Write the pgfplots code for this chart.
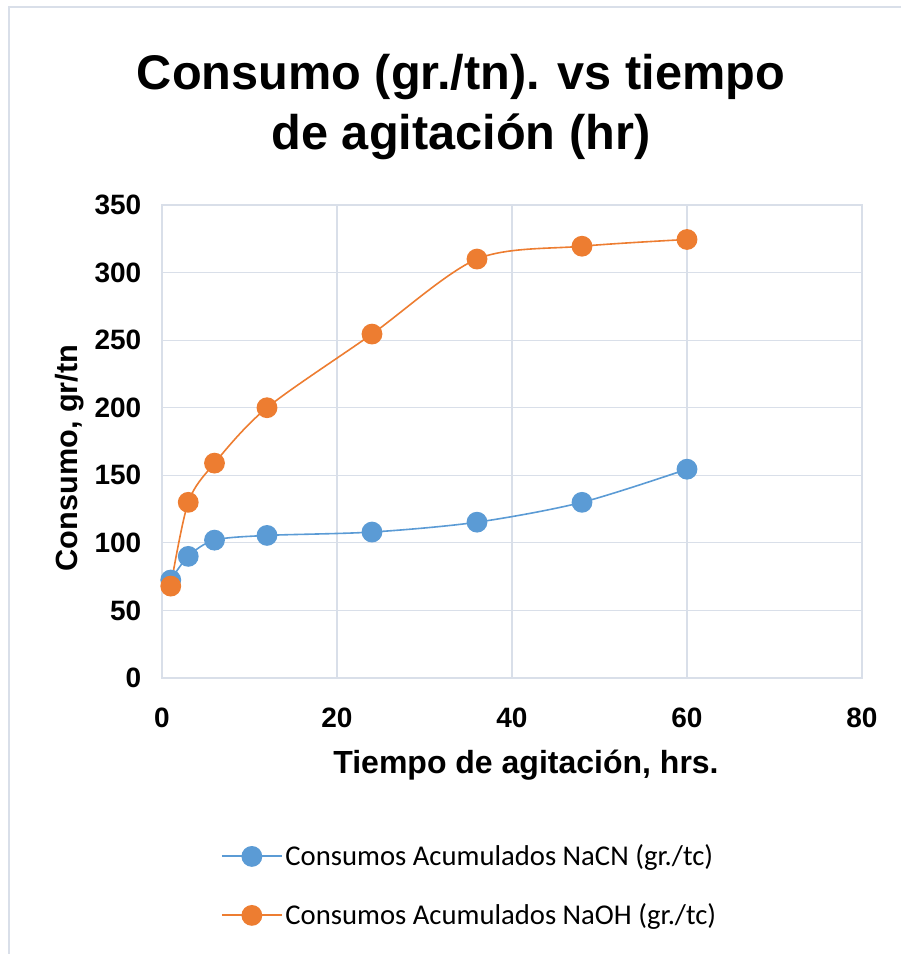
\documentclass[border=0pt]{standalone}
\usepackage{pgfplots}
\pgfplotsset{compat=1.18}
\usepackage{fontspec}
\setmainfont{Liberation Sans}
\newfontfamily\legfont{Carlito}
\definecolor{gridc}{RGB}{217,223,233}
\definecolor{serblue}{RGB}{91,155,213}
\definecolor{serorange}{RGB}{237,125,49}
\begin{document}
\begin{tikzpicture}
\useasboundingbox (-121.5pt,-207pt) rectangle (554.25pt,508.5pt);
\draw[gridc, line width=1.5pt] (-114.75pt,-207pt) -- (-114.75pt,503.25pt) -- (554.25pt,503.25pt);
\begin{axis}[
  at={(0pt,0pt)}, anchor=south west,
  scale only axis, width=525pt, height=354.75pt,
  xmin=0, xmax=80, ymin=0, ymax=350,
  xtick={0,20,40,60,80}, ytick={0,50,...,350},
  grid=major, major grid style={gridc, line width=0.8pt},
  axis line style={gridc, line width=0.8pt},
  major tick length=0pt,
  /pgf/number format/assume math mode=true,
  ticklabel style={font=\bfseries\fontsize{21}{25}\selectfont},
  yticklabel style={xshift=-12pt},
  xticklabel style={yshift=-19pt},
  xlabel={Tiempo de agitación, hrs.},
  ylabel={Consumo, gr/tn},
  xlabel style={at={(273pt,-65.25pt)}, anchor=center, font=\bfseries\fontsize{24}{28}\selectfont},
  ylabel style={at={(-69pt,165pt)}, anchor=center, font=\bfseries\fontsize{23}{27}\selectfont},
  title={Consumo (gr./tn). vs tiempo\\de agitación (hr)},
  title style={at={(224.25pt,422pt)}, anchor=center, align=center,
    font=\bfseries\fontsize{36.5}{45}\selectfont},
  legend style={at={(44pt,-123pt)}, anchor=north west, draw=none, fill=none,
    font=\legfont\fontsize{21.5}{25}\selectfont, row sep=23pt, inner sep=0pt},
  legend cell align=left,
]
\addplot[serblue, line width=1.2pt, smooth, tension=0.5, mark=*, mark size=7.2pt,
  mark options={fill=serblue, draw=serblue},
  legend image code/.code={%
    \draw[serblue, line width=1.4pt] (0pt,0pt) -- (45pt,0pt);
    \draw[serblue, only marks, mark=*, mark size=7.2pt, mark options={fill=serblue}] plot coordinates {(22.5pt,0pt)};}]
  coordinates {(1,72.5) (3,90) (6,102) (12,105.5) (24,108) (36,115.3) (48,130) (60,154.5)};
\addlegendentry{Consumos Acumulados NaCN (gr./tc)}
\addplot[serorange, line width=1.2pt, smooth, tension=0.5, mark=*, mark size=7.2pt,
  mark options={fill=serorange, draw=serorange},
  legend image code/.code={%
    \draw[serorange, line width=1.4pt] (0pt,0pt) -- (45pt,0pt);
    \draw[serorange, only marks, mark=*, mark size=7.2pt, mark options={fill=serorange}] plot coordinates {(22.5pt,0pt)};}]
  coordinates {(1,68) (3,130) (6,159) (12,200) (24,254.5) (36,310) (48,319.5) (60,324.5)};
\addlegendentry{Consumos Acumulados NaOH (gr./tc)}
\end{axis}
\end{tikzpicture}
\end{document}
